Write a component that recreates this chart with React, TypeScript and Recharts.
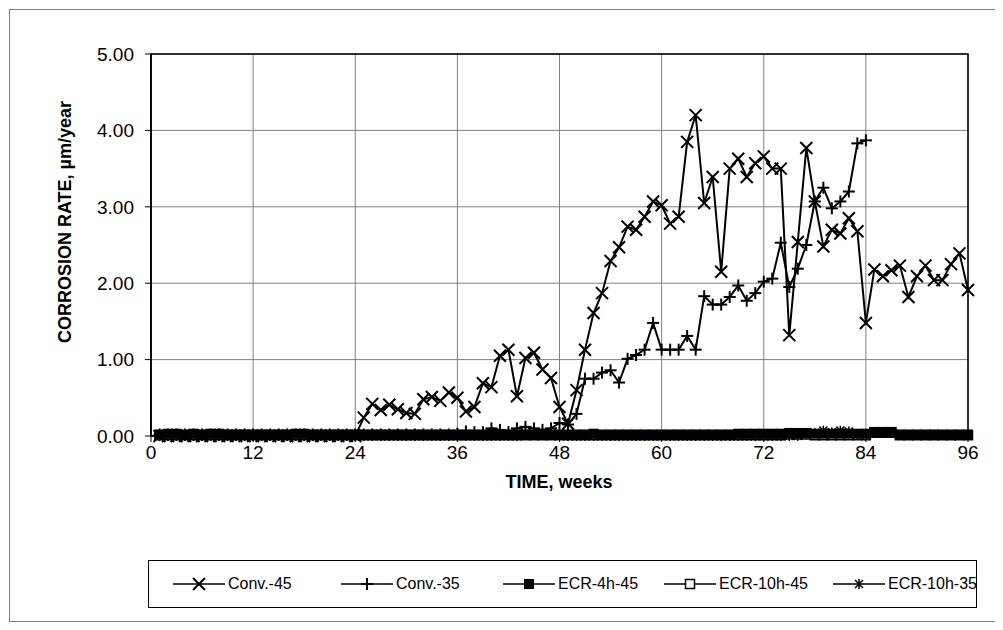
import { CartesianGrid, Legend, Line, LineChart, ReferenceArea, XAxis, YAxis } from 'recharts';

// weeks 1..96
const weeks = [
  1, 2, 3, 4, 5, 6, 7, 8, 9, 10, 11, 12, 13, 14, 15, 16, 17, 18, 19, 20, 21, 22, 23, 24,
  25, 26, 27, 28, 29, 30, 31, 32, 33, 34, 35, 36, 37, 38, 39, 40, 41, 42, 43, 44, 45, 46, 47, 48,
  49, 50, 51, 52, 53, 54, 55, 56, 57, 58, 59, 60, 61, 62, 63, 64, 65, 66, 67, 68, 69, 70, 71, 72,
  73, 74, 75, 76, 77, 78, 79, 80, 81, 82, 83, 84, 85, 86, 87, 88, 89, 90, 91, 92, 93, 94, 95, 96,
];

const conv45 = [
  0, 0, 0, 0, 0, 0, 0, 0, 0, 0, 0, 0, 0, 0, 0, 0, 0, 0, 0, 0, 0, 0, 0, 0,
  0.24, 0.42, 0.34, 0.41, 0.35, 0.3, 0.29, 0.48, 0.51, 0.46, 0.57, 0.5,
  0.32, 0.38, 0.69, 0.64, 1.05, 1.13, 0.52, 1.02, 1.09, 0.87, 0.76, 0.38,
  0.16, 0.6, 1.13, 1.61, 1.87, 2.29, 2.47, 2.74, 2.7, 2.87, 3.07, 3.02,
  2.78, 2.87, 3.85, 4.2, 3.05, 3.39, 2.15, 3.5, 3.63, 3.39, 3.57, 3.66,
  3.5, 3.5, 1.32, 2.54, 3.77, 3.07, 2.48, 2.7, 2.65, 2.85, 2.68, 1.48,
  2.18, 2.09, 2.17, 2.23, 1.82, 2.09, 2.23, 2.04, 2.04, 2.25, 2.39, 1.91,
];

const conv35 = [
  0.02, 0.02, 0.02, 0.02, 0.02, 0.02, 0.02, 0.02, 0.02, 0.02, 0.02, 0.02,
  0.02, 0.02, 0.02, 0.02, 0.02, 0.02, 0.02, 0.02, 0.02, 0.02, 0.02, 0.02,
  0.02, 0.02, 0.02, 0.02, 0.02, 0.02, 0.02, 0.02, 0.02, 0.02, 0.02, 0.03,
  0.06, 0.05, 0.05, 0.1, 0.08, 0.05, 0.1, 0.12, 0.1, 0.08, 0.1, 0.17,
  0.15, 0.29, 0.75, 0.75, 0.83, 0.86, 0.7, 1.01, 1.06, 1.13, 1.48, 1.13,
  1.13, 1.13, 1.31, 1.13, 1.83, 1.72, 1.72, 1.82, 1.97, 1.77, 1.87, 2.02,
  2.06, 2.53, 1.95, 2.19, 2.5, 3.07, 3.25, 2.98, 3.07, 3.2, 3.83, 3.87,
];

const ecr4h45 = [
  0.02, 0.03, 0.03, 0.02, 0.03, 0.02, 0.03, 0.03, 0.02, 0.02, 0.02, 0.02,
  0.02, 0.02, 0.02, 0.02, 0.03, 0.03, 0.02, 0.02, 0.02, 0.02, 0.02, 0.02,
  0.02, 0.02, 0.02, 0.02, 0.02, 0.02, 0.02, 0.02, 0.02, 0.02, 0.02, 0.02,
  0.02, 0.02, 0.02, 0.02, 0.02, 0.02, 0.02, 0.02, 0.02, 0.02, 0.02, 0.02,
  0.02, 0.02, 0.02, 0.03, 0.02, 0.02, 0.02, 0.02, 0.02, 0.02, 0.02, 0.02,
  0.02, 0.02, 0.02, 0.02, 0.02, 0.02, 0.02, 0.02, 0.03, 0.03, 0.03, 0.03,
  0.03, 0.03, 0.04, 0.04, 0.04, 0.03, 0.03, 0.03, 0.03, 0.03, 0.03, 0.03,
  0.04, 0.04, 0.04, 0.02, 0.02, 0.02, 0.02, 0.02, 0.02, 0.02, 0.02, 0.02,
];

const ecr10h45 = [
  0.01, 0.01, 0.01, 0.01, 0.01, 0.01, 0.01, 0.01, 0.01, 0.01, 0.01, 0.01,
  0.01, 0.01, 0.01, 0.01, 0.01, 0.01, 0.01, 0.01, 0.01, 0.01, 0.01, 0.01,
  0.01, 0.01, 0.01, 0.01, 0.01, 0.01, 0.01, 0.01, 0.01, 0.01, 0.01, 0.01,
  0.01, 0.01, 0.01, 0.01, 0.01, 0.01, 0.01, 0.01, 0.01, 0.01, 0.01, 0.01,
  0.01, 0.01, 0.01, 0.01, 0.01, 0.01, 0.01, 0.01, 0.01, 0.01, 0.01, 0.01,
  0.01, 0.01, 0.01, 0.01, 0.01, 0.01, 0.01, 0.01, 0.01, 0.01, 0.01, 0.01,
  0.01, 0.01, 0.02, 0.02, 0.02, 0.01, 0.01, 0.01, 0.01, 0.01, 0.01, 0.01,
  0.05, 0.05, 0.05, 0.01, 0.01, 0.01, 0.01, 0.01, 0.01, 0.01, 0.01, 0.01,
];

const ecr10h35 = [
  0, 0, 0, 0, 0, 0, 0, 0, 0, 0, 0, 0,
  0, 0, 0, 0, 0, 0, 0, 0, 0, 0, 0, 0,
  0, 0, 0, 0, 0, 0, 0, 0, 0, 0, 0, 0,
  0, 0, 0, 0, 0, 0, 0, 0.04, 0.03, 0.04, 0.02, 0.02,
  0, 0, 0, 0, 0, 0, 0, 0, 0, 0, 0, 0,
  0, 0, 0, 0, 0, 0, 0, 0, 0, 0, 0, 0,
  0, 0, 0, 0, 0.02, 0.04, 0.07, 0.05, 0.07, 0.06, 0.02, 0.01,
];

const xTicks = [0, 12, 24, 36, 48, 60, 72, 84, 96];
const yTicks = [0, 1, 2, 3, 4, 5];

const data = weeks.map((week, i) => ({
  week,
  conv45: conv45[i],
  conv35: conv35[i],
  ecr4h45: ecr4h45[i],
  ecr10h45: ecr10h45[i],
  ecr10h35: ecr10h35[i],
}));

const FONT = '"Liberation Sans", Arial, sans-serif';

type MarkerKind = 'cross' | 'plus' | 'square' | 'hollow' | 'star';

function Marker({ kind, cx, cy }: { kind: MarkerKind; cx: number; cy: number }) {
  if (kind === 'cross') {
    return (
      <g stroke="#000" strokeWidth={2}>
        <line x1={cx - 6} y1={cy - 6} x2={cx + 6} y2={cy + 6} />
        <line x1={cx - 6} y1={cy + 6} x2={cx + 6} y2={cy - 6} />
      </g>
    );
  }
  if (kind === 'plus') {
    return (
      <g stroke="#000" strokeWidth={2}>
        <line x1={cx - 6} y1={cy} x2={cx + 6} y2={cy} />
        <line x1={cx} y1={cy - 6} x2={cx} y2={cy + 6} />
      </g>
    );
  }
  if (kind === 'square') {
    return <rect x={cx - 5} y={cy - 5} width={10} height={10} fill="#000" />;
  }
  if (kind === 'hollow') {
    return <rect x={cx - 4.5} y={cy - 4.5} width={9} height={9} fill="#fff" stroke="#000" strokeWidth={1.5} />;
  }
  return (
    <g stroke="#000" strokeWidth={1.5}>
      <line x1={cx - 4} y1={cy - 4} x2={cx + 4} y2={cy + 4} />
      <line x1={cx - 4} y1={cy + 4} x2={cx + 4} y2={cy - 4} />
      <line x1={cx} y1={cy - 5} x2={cx} y2={cy + 5} />
    </g>
  );
}

const dotOf = (kind: MarkerKind) => (props: any) => {
  const { cx, cy, index } = props;
  if (cx == null || cy == null || Number.isNaN(cy)) return <g key={`d-${kind}-${index}`} />;
  return (
    <g key={`d-${kind}-${index}`}>
      <Marker kind={kind} cx={cx} cy={cy} />
    </g>
  );
};

const legendItems: { name: string; kind: MarkerKind; left: number }[] = [
  { name: 'Conv.-45', kind: 'cross', left: 24 },
  { name: 'Conv.-35', kind: 'plus', left: 192 },
  { name: 'ECR-4h-45', kind: 'square', left: 354 },
  { name: 'ECR-10h-45', kind: 'hollow', left: 515 },
  { name: 'ECR-10h-35', kind: 'star', left: 684 },
];

function ChartLegend() {
  return (
    <div
      style={{
        position: 'relative',
        width: 829,
        height: 48,
        border: '1px solid #000',
        boxSizing: 'border-box',
        background: '#fff',
        fontFamily: FONT,
        fontSize: 16,
        color: '#000',
      }}
    >
      {legendItems.map((it) => (
        <div
          key={it.name}
          style={{ position: 'absolute', left: it.left, top: 14, height: 18, display: 'flex', alignItems: 'center' }}
        >
          <svg width={52} height={16} style={{ display: 'block' }}>
            <line x1={0} y1={8} x2={52} y2={8} stroke="#000" strokeWidth={1.5} />
            <Marker kind={it.kind} cx={26} cy={8} />
          </svg>
          <span style={{ marginLeft: 3, whiteSpace: 'nowrap' }}>{it.name}</span>
        </div>
      ))}
    </div>
  );
}

export default function App() {
  return (
    <div
      style={{
        width: 987,
        height: 613,
        marginLeft: 1,
        marginTop: 1,
        border: '1px solid #7f7f7f',
        boxSizing: 'border-box',
        background: '#fff',
        fontFamily: FONT,
      }}
    >
      <LineChart width={985} height={611} data={data} margin={{ top: 44, right: 27, left: 0, bottom: 0 }}>
        <CartesianGrid stroke="#808080" strokeWidth={1} />
        <XAxis
          dataKey="week"
          type="number"
          domain={[0, 96]}
          ticks={xTicks}
          interval={0}
          height={185}
          tickSize={6}
          tickMargin={4}
          axisLine={{ stroke: '#000', strokeWidth: 1.5 }}
          tickLine={{ stroke: '#000' }}
          tick={{ fill: '#000', fontSize: 19 }}
          label={() => (
            <text x={549} y={478} textAnchor="middle" fontSize={18} fontWeight="bold" fill="#000">
              TIME, weeks
            </text>
          )}
        />
        <YAxis
          type="number"
          domain={[0, 5]}
          ticks={yTicks}
          interval={0}
          width={141}
          tickSize={6}
          tickMargin={11}
          axisLine={{ stroke: '#000', strokeWidth: 1.5 }}
          tickLine={{ stroke: '#000' }}
          tick={{ fill: '#000', fontSize: 19 }}
          tickFormatter={(v: number) => v.toFixed(2)}
          label={() => (
            <text
              transform="translate(55,212) rotate(-90)"
              textAnchor="middle"
              dy="0.35em"
              fontSize={18}
              fontWeight="bold"
              fill="#000"
            >
              CORROSION RATE, µm/year
            </text>
          )}
        />
        <ReferenceArea x1={0} x2={96} y1={0} y2={5} fill="none" stroke="#000" strokeWidth={1.5} />
        <Legend
          layout="horizontal"
          verticalAlign="middle"
          align="center"
          content={() => <ChartLegend />}
          wrapperStyle={{ left: 138, top: 550, width: 829, height: 48 }}
        />
        <Line dataKey="conv45" name="Conv.-45" stroke="#000" strokeWidth={2} dot={dotOf('cross')} isAnimationActive={false} />
        <Line dataKey="conv35" name="Conv.-35" stroke="#000" strokeWidth={2} dot={dotOf('plus')} isAnimationActive={false} />
        <Line dataKey="ecr10h45" name="ECR-10h-45" stroke="#000" strokeWidth={2} dot={dotOf('hollow')} isAnimationActive={false} />
        <Line dataKey="ecr4h45" name="ECR-4h-45" stroke="#000" strokeWidth={2} dot={dotOf('square')} isAnimationActive={false} />
        <Line dataKey="ecr10h35" name="ECR-10h-35" stroke="#000" strokeWidth={2} dot={dotOf('star')} isAnimationActive={false} />
      </LineChart>
    </div>
  );
}
